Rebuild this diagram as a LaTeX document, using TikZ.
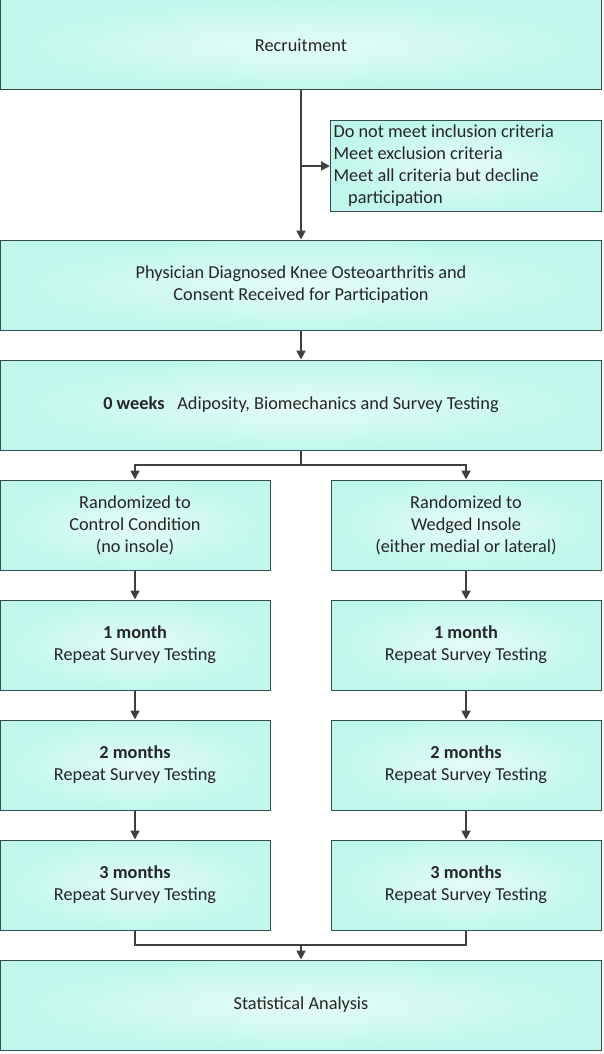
\documentclass[tikz,border=0pt]{standalone}
\usepackage{fontspec}
\setmainfont{Carlito}
\usepackage{tikz}
\usetikzlibrary{positioning,arrows.meta}

\definecolor{boxline}{HTML}{35504C}
\definecolor{arrowgray}{HTML}{404040}
\definecolor{aquain}{HTML}{E4FCF7}
\definecolor{aquaout}{HTML}{BFF7EC}

\begin{document}
\begin{tikzpicture}[x=1pt,y=-1pt,>={Triangle[length=9pt,width=9pt]},
    every node/.style={font=\fontsize{18.3}{22}\selectfont,text=black!85}]
  \tikzstyle{stage}=[draw=boxline,line width=1pt,shading=radial,inner color=aquain,outer color=aquaout,
    minimum height=90pt,align=center,inner sep=0pt]
  \tikzstyle{wide}=[stage,minimum width=601pt]
  \tikzstyle{half}=[stage,minimum width=270pt]
  \tikzstyle{flow}=[draw=arrowgray,line width=1.8pt]

  \useasboundingbox (0,0) rectangle (604,1054);

  \node[wide] (rec) at (301,45) {Recruitment};
  \node[stage,text width=265pt,minimum height=91pt,align=flush left,anchor=north west,inner xsep=3pt] (excl) at (330,120)
    {Do not meet inclusion criteria\\Meet exclusion criteria\\Meet all criteria but decline\\\hspace*{0.8em}participation};
  \node[wide] (diag) at (301,285) {Physician Diagnosed Knee Osteoarthritis and\\Consent Received for Participation};
  \node[wide] (zero) at (301,405) {\textbf{0 weeks}\hspace{0.7em}Adiposity, Biomechanics and Survey Testing};

  \node[half] (ctl) at (135,525) {Randomized to\\Control Condition\\(no insole)};
  \node[half] (wdg) at (466,525) {Randomized to\\Wedged Insole\\(either medial or lateral)};

  \node[half] (c1) at (135,645) {\textbf{1 month}\\Repeat Survey Testing};
  \node[half] (c2) at (135,765) {\textbf{2 months}\\Repeat Survey Testing};
  \node[half] (c3) at (135,885) {\textbf{3 months}\\Repeat Survey Testing};
  \node[half] (w1) at (466,645) {\textbf{1 month}\\Repeat Survey Testing};
  \node[half] (w2) at (466,765) {\textbf{2 months}\\Repeat Survey Testing};
  \node[half] (w3) at (466,885) {\textbf{3 months}\\Repeat Survey Testing};

  \node[wide] (stat) at (301,1005) {Statistical Analysis};

  % recruitment and exclusions
  \draw[flow,->] (rec) -- (diag);
  \draw[flow,->] (rec.south |- excl.west) -- (excl.west);
  \draw[flow,->] (diag) -- (zero);

  % randomization
  \coordinate (split) at (301,465);
  \draw[flow] (zero.south) -- (split);
  \draw[flow,->] (split) -| (ctl.north);
  \draw[flow,->] (split) -| (wdg.north);

  % follow-up
  \draw[flow,->] (ctl) -- (c1);
  \draw[flow,->] (c1) -- (c2);
  \draw[flow,->] (c2) -- (c3);
  \draw[flow,->] (wdg) -- (w1);
  \draw[flow,->] (w1) -- (w2);
  \draw[flow,->] (w2) -- (w3);

  % merge
  \coordinate (merge) at (301,945);
  \draw[flow] (c3.south) |- (merge) -| (w3.south);
  \draw[flow,->] (merge) -- (stat.north);

\end{tikzpicture}
\end{document}
